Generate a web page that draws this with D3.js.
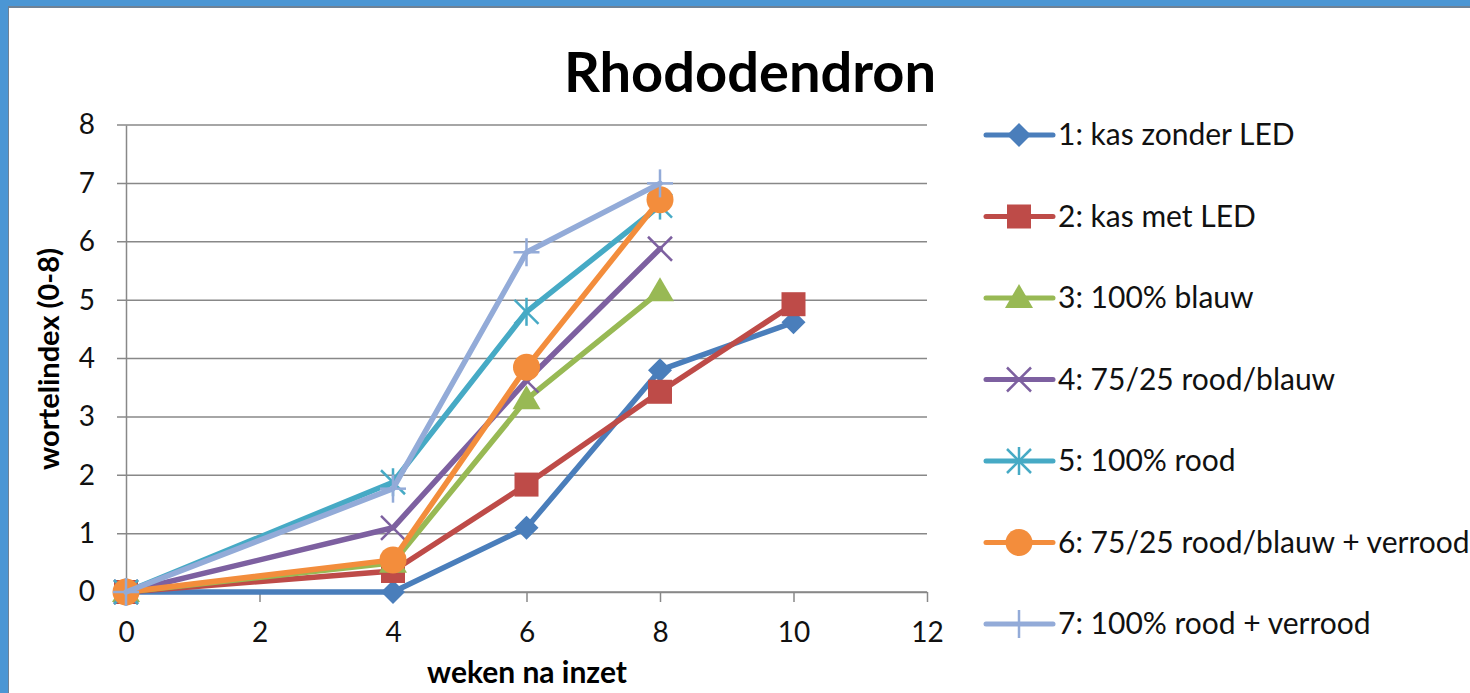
<!DOCTYPE html>
<html>
<head>
<meta charset="utf-8">
<script src="https://cdn.jsdelivr.net/npm/d3@7"></script>
<style>
  body { margin: 0; background: #fff; }
  svg { display: block; font-family: Lato, "Open Sans", sans-serif; }
</style>
</head>
<body>
<div id="chart"></div>
<script>
// data
var weeks = [0, 4, 6, 8, 10];
var seriesNames = [
    "1: kas zonder LED",
    "2: kas met LED",
    "3: 100% blauw",
    "4: 75/25 rood/blauw",
    "5: 100% rood",
    "6: 75/25 rood/blauw + verrood",
    "7: 100% rood + verrood"
];
var kasZonderLed = [0, 0, 1.1, 3.8, 4.62];
var kasMetLed = [0, 0.36, 1.84, 3.43, 4.93];
var blauw100 = [0, 0.5, 3.3, 5.15];
var roodBlauw = [0, 1.1, 3.62, 5.88];
var rood100 = [0, 1.88, 4.8, 6.62];
var roodBlauwVerrood = [0, 0.55, 3.85, 6.72];
var roodVerrood = [0, 1.77, 5.82, 7.0];
var xTicks = [0, 2, 4, 6, 8, 10, 12];
var yTicks = [0, 1, 2, 3, 4, 5, 6, 7, 8];

var allValues = [kasZonderLed, kasMetLed, blauw100, roodBlauw, rood100, roodBlauwVerrood, roodVerrood];
var colors = ["#4A7EBB", "#BE4B48", "#98B954", "#7D60A0", "#46AAC5", "#F38D3C", "#93ABD8"];
var markers = ["diamond", "square", "triangle", "cross", "star", "circle", "plus"];

var svgWidth = 1470;
var svgHeight = 693;

var margin = { top: 125, left: 126, right: 543, bottom: 101 };
var chartWidth = svgWidth - margin.left - margin.right;
var chartHeight = svgHeight - margin.top - margin.bottom;

var svg = d3.select("#chart")
    .append("svg")
    .attr("width", svgWidth)
    .attr("height", svgHeight);

// blue frame of the slide
svg.append("rect")
    .attr("width", svgWidth).attr("height", svgHeight)
    .attr("fill", "#4B96D4");
svg.append("rect")
    .attr("x", 8).attr("y", 6)
    .attr("width", svgWidth).attr("height", svgHeight)
    .attr("fill", "#6f8296");
svg.append("rect")
    .attr("x", 9).attr("y", 8)
    .attr("width", svgWidth).attr("height", svgHeight)
    .attr("fill", "#ffffff");

// title
svg.append("text")
    .attr("x", 750)
    .attr("y", 92)
    .attr("text-anchor", "middle")
    .style("font-size", "56px")
    .style("font-weight", "bold")
    .style("fill", "#000")
    .text("Rhododendron");

var chart = svg.append("g")
    .attr("transform", `translate(${margin.left}, ${margin.top})`);

var xScale = d3.scaleLinear().domain([0, 12]).range([0, chartWidth]);
var yScale = d3.scaleLinear().domain([0, 8]).range([chartHeight, 0]);

// gridlines
chart.append("g")
    .selectAll("line")
    .data(yTicks)
    .enter()
    .append("line")
    .attr("x1", -9)
    .attr("x2", chartWidth)
    .attr("y1", d => yScale(d))
    .attr("y2", d => yScale(d))
    .attr("stroke", "#888888")
    .attr("stroke-width", 1.5);

// y axis
var yAxis = d3.axisLeft(yScale).tickValues(yTicks).tickSize(0).tickPadding(31);
var yG = chart.append("g").call(yAxis);
yG.select(".domain").attr("stroke", "#888888").attr("stroke-width", 1.5);
yG.selectAll("text").style("font-size", "28px").style("fill", "#111")
    .style("font-family", "Lato, sans-serif");

// x axis
var xAxis = d3.axisBottom(xScale).tickValues(xTicks).tickSize(10).tickSizeOuter(0).tickPadding(20);
var xG = chart.append("g")
    .attr("transform", `translate(0, ${chartHeight})`)
    .call(xAxis);
xG.select(".domain").attr("stroke", "#888888").attr("stroke-width", 1.5);
xG.selectAll("line").attr("stroke", "#888888").attr("stroke-width", 1.5);
xG.selectAll("text").style("font-size", "28px").style("fill", "#111")
    .style("font-family", "Lato, sans-serif");

// axis titles
svg.append("text")
    .attr("transform", "translate(59, 359) rotate(-90)")
    .attr("text-anchor", "middle")
    .style("font-size", "29px")
    .style("font-weight", "bold")
    .text("wortelindex (0-8)");

svg.append("text")
    .attr("x", 527)
    .attr("y", 683)
    .attr("text-anchor", "middle")
    .style("font-size", "30px")
    .style("font-weight", "bold")
    .text("weken na inzet");

// draws one marker of a given type at the origin of g
function drawMarker(g, type, color) {
    if (type == "diamond") {
        g.append("path").attr("d", "M0,-12L12,0L0,12L-12,0Z").attr("fill", color);
    } else if (type == "square") {
        g.append("rect").attr("x", -12).attr("y", -12).attr("width", 24).attr("height", 24).attr("fill", color);
    } else if (type == "triangle") {
        g.append("path").attr("d", "M0,-14L14,10L-14,10Z").attr("fill", color);
    } else if (type == "circle") {
        g.append("circle").attr("r", 13.5).attr("fill", color);
    } else {
        var r = 12;
        var segs = [];
        if (type == "cross" || type == "star") {
            segs.push([-r, -r, r, r], [-r, r, r, -r]);
        }
        if (type == "star") {
            segs.push([0, -r - 2, 0, r + 2]);
        }
        if (type == "plus") {
            segs.push([-r - 1, 0, r + 1, 0], [0, -r - 2, 0, r + 2]);
        }
        segs.forEach(s => {
            g.append("line")
                .attr("x1", s[0]).attr("y1", s[1]).attr("x2", s[2]).attr("y2", s[3])
                .attr("stroke", color).attr("stroke-width", 2.5);
        });
    }
}

var line = d3.line()
    .x((d, i) => xScale(weeks[i]))
    .y(d => yScale(d));

allValues.forEach((vals, s) => {
    var sg = chart.append("g");
    sg.append("path")
        .attr("d", line(vals))
        .attr("fill", "none")
        .attr("stroke", colors[s])
        .attr("stroke-width", 5.5)
        .attr("stroke-linejoin", "round")
        .attr("stroke-linecap", "round");
    sg.selectAll("g.pt")
        .data(vals)
        .enter()
        .append("g")
        .attr("class", "pt")
        .attr("transform", (d, i) => `translate(${xScale(weeks[i])}, ${yScale(d)})`)
        .each(function () { drawMarker(d3.select(this), markers[s], colors[s]); });
});

// legend
var legend = svg.append("g");
seriesNames.forEach((name, i) => {
    var ly = 135 + i * 81.5;
    var lg = legend.append("g").attr("transform", `translate(986, ${ly})`);
    lg.append("line")
        .attr("x1", 0).attr("x2", 67)
        .attr("stroke", colors[i]).attr("stroke-width", 5)
        .attr("stroke-linecap", "round");
    var mg = lg.append("g").attr("transform", "translate(33, 0)");
    drawMarker(mg, markers[i], colors[i]);
    lg.append("text")
        .attr("x", 72)
        .attr("y", 10)
        .style("font-size", "30px")
        .style("fill", "#111")
        .text(name);
});
</script>
</body>
</html>
